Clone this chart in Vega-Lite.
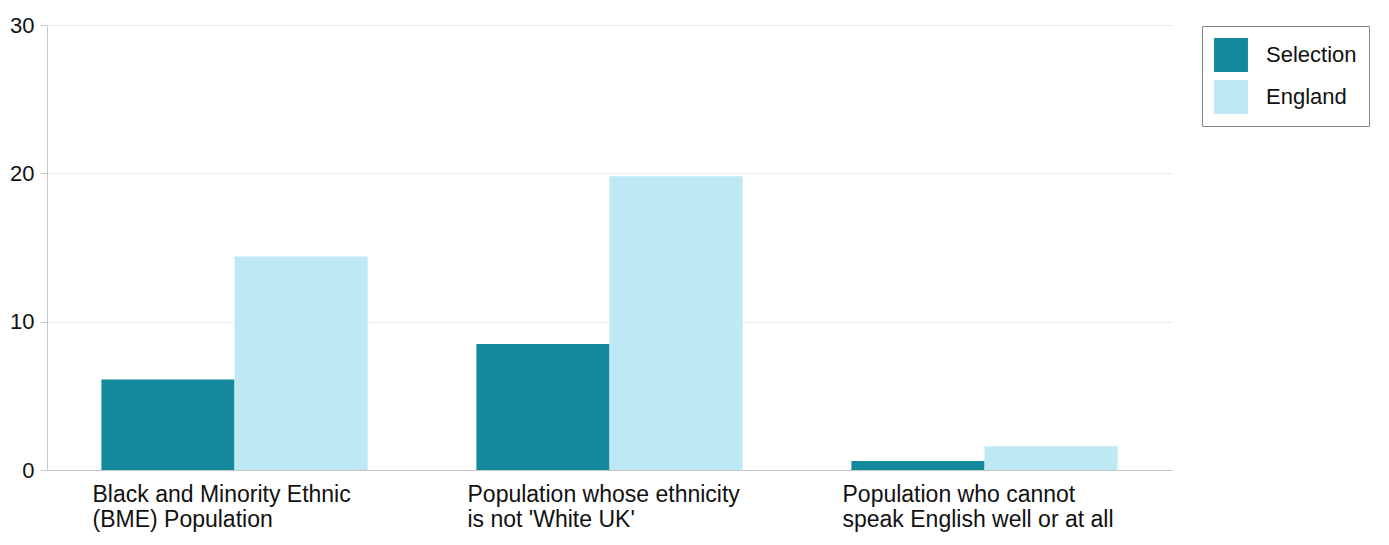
{
  "$schema": "https://vega.github.io/schema/vega-lite/v6.json",
  "width": 1125,
  "height": 445,
  "autosize": {"type": "none"},
  "padding": {"left": 47, "top": 25, "right": 217, "bottom": 75},
  "background": "white",
  "config": {
    "view": {"stroke": null},
    "font": "Liberation Sans"
  },
  "data": {
    "values": [
      {"category": "Black and Minority Ethnic|(BME) Population", "series": "Selection", "value": 6.1},
      {"category": "Black and Minority Ethnic|(BME) Population", "series": "England", "value": 14.4},
      {"category": "Population whose ethnicity|is not 'White UK'", "series": "Selection", "value": 8.5},
      {"category": "Population whose ethnicity|is not 'White UK'", "series": "England", "value": 19.8},
      {"category": "Population who cannot|speak English well or at all", "series": "Selection", "value": 0.6},
      {"category": "Population who cannot|speak English well or at all", "series": "England", "value": 1.6}
    ]
  },
  "mark": {"type": "bar"},
  "encoding": {
    "x": {
      "field": "category",
      "type": "nominal",
      "sort": null,
      "title": null,
      "scale": {"paddingInner": 0.29, "paddingOuter": 0.145},
      "axis": {
        "labelAngle": 0,
        "labelAlign": "left",
        "labelBaseline": "top",
        "labelOffset": -142,
        "labelPadding": 13,
        "labelFontSize": 23,
        "labelLineHeight": 25,
        "labelColor": "#111",
        "labelExpr": "split(datum.label, '|')",
        "ticks": false,
        "domainColor": "#c8c8c8",
        "labelLimit": 400
      }
    },
    "xOffset": {"field": "series", "type": "nominal", "sort": ["Selection", "England"], "scale": {"paddingInner": 0}},
    "y": {
      "field": "value",
      "type": "quantitative",
      "title": null,
      "scale": {"domain": [0, 30], "nice": false},
      "axis": {
        "values": [0, 10, 20, 30],
        "labelFontSize": 22,
        "labelColor": "#111",
        "labelPadding": 6,
        "tickSize": 7,
        "tickColor": "#c8c8c8",
        "domainColor": "#c8c8c8",
        "gridColor": "#ececec"
      }
    },
    "color": {
      "field": "series",
      "type": "nominal",
      "sort": ["Selection", "England"],
      "scale": {"domain": ["Selection", "England"], "range": ["#13899B", "#BEE9F4"]},
      "legend": {
        "title": null,
        "orient": "none",
        "legendX": 1155,
        "legendY": 1,
        "symbolType": "square",
        "symbolSize": 1150,
        "symbolStrokeWidth": 0,
        "labelFontSize": 22,
        "labelColor": "#111",
        "labelOffset": 18,
        "rowPadding": 8,
        "padding": 12,
        "strokeColor": "#888",
        "fillColor": "white"
      }
    }
  }
}
